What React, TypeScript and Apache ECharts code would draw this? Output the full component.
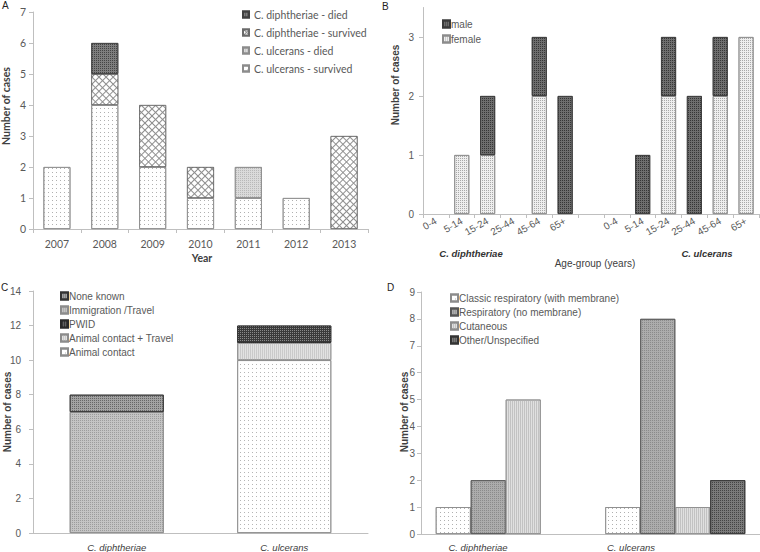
import React, { useEffect, useRef } from "react";
import * as echarts from "echarts";

// ---- Panel A: cases by year ----
const years = ["2007", "2008", "2009", "2010", "2011", "2012", "2013"];
const ulcSurvived = [2, 4, 2, 1, 1, 1, 0];
const ulcDied = [0, 0, 0, 0, 1, 0, 0];
const dipSurvived = [0, 1, 2, 1, 0, 0, 3];
const dipDied = [0, 1, 0, 0, 0, 0, 0];

// ---- Panel B: age group / sex ----
const ageGroups = ["0-4", "5-14", "15-24", "25-44", "45-64", "65+"];
const dipFemale = [0, 1, 1, 0, 2, 0];
const dipMale = [0, 0, 1, 0, 1, 2];
const ulcFemale = [0, 0, 2, 0, 2, 3];
const ulcMale = [0, 1, 1, 2, 1, 0];

// ---- Panel C: exposure ----
const species = ["C. diphtheriae", "C. ulcerans"];
const animalContact = [0, 10];
const animalTravel = [0, 1];
const pwid = [0, 1];
const immigration = [7, 0];
const noneKnown = [1, 0];

// ---- Panel D: presentation ----
const classicResp = [1, 1];
const respNoMembrane = [2, 8];
const cutaneous = [5, 1];
const otherUnspec = [0, 2];

const nz = (a: number[]) => a.map((v) => (v === 0 ? null : v));

const dots = (color: string, gap = 3) => ({
  symbol: "rect",
  symbolSize: 1,
  color,
  dashArrayX: [1, gap],
  dashArrayY: [1, gap],
  rotation: 0,
});
const cross = {
  symbol: "rect",
  symbolSize: 1,
  color: "#ffffff",
  dashArrayX: [4, 1],
  dashArrayY: [4, 1],
  rotation: Math.PI / 4,
};
const vlines = (color: string) => ({
  symbol: "rect",
  symbolSize: 1,
  color,
  dashArrayX: [1, 1],
  dashArrayY: [4, 0],
  rotation: 0,
});

const AXIS = "#bfbfbf";
const LBL = "#595959";
const ARIAL = "Liberation Sans, Arial, sans-serif";
const LATO = "Lato, sans-serif";

function style(color: string, decal: any, border = "#8c8c8c") {
  return { color, borderColor: border, borderWidth: 0.8, decal };
}

export default function App() {
  const ref = useRef<HTMLDivElement>(null);
  useEffect(() => {
    document.body.style.margin = "0";
    if (!ref.current) return;
    const chart = echarts.init(ref.current, null, { renderer: "svg" });

    const bCats = [
      ...ageGroups.map((g) => "d" + g),
      "x",
      ...ageGroups.map((g) => "u" + g),
    ];
    const bFemale = [...dipFemale, 0, ...ulcFemale];
    const bMale = [...dipMale, 0, ...ulcMale];

    const valAxis = (grid: number, max: number, interval: number, margin: number, font: string, fs: number) => ({
      type: "value",
      gridIndex: grid,
      min: 0,
      max,
      interval,
      axisLine: { show: true, lineStyle: { color: AXIS } },
      axisTick: { show: true, length: 4, lineStyle: { color: AXIS }, customValues: undefined as any },
      splitLine: { show: false },
      axisLabel: { color: LBL, fontFamily: font, fontSize: fs, margin },
    });

    const yB: any = valAxis(1, 3.5, 1, 9, ARIAL, 10);
    yB.axisLabel.formatter = (v: number) => (Number.isInteger(v) ? String(v) : "");
    yB.axisLabel.customValues = [0, 1, 2, 3];
    yB.axisTick.customValues = [0, 1, 2, 3];

    const legendBase = {
      orient: "vertical",
      padding: 0,
      icon: "rect",
      itemWidth: 7,
      itemHeight: 7,
      selectedMode: false,
    };

    const option: any = {
      animation: false,
      grid: [
        { left: 33, top: 12, width: 335, height: 217 },
        { left: 423, top: 7.5, width: 336, height: 206.5 },
        { left: 33, top: 291, width: 335, height: 242 },
        { left: 421, top: 292, width: 339, height: 242 },
      ],
      xAxis: [
        {
          type: "category",
          gridIndex: 0,
          data: years,
          axisLine: { lineStyle: { color: AXIS } },
          axisTick: { show: true, length: 4, lineStyle: { color: AXIS } },
          axisLabel: { color: LBL, fontFamily: LATO, fontSize: 10.5, margin: 9 },
        },
        {
          type: "category",
          gridIndex: 1,
          data: bCats,
          axisLine: { lineStyle: { color: AXIS } },
          axisTick: { show: true, length: 4, lineStyle: { color: AXIS } },
          axisLabel: {
            color: LBL,
            fontFamily: ARIAL,
            fontSize: 10,
            rotate: 30,
            interval: 0,
            margin: 6,
            formatter: (v: string) => v.slice(1),
          },
        },
        {
          type: "category",
          gridIndex: 2,
          data: species,
          axisLine: { lineStyle: { color: AXIS } },
          axisTick: { show: false },
          axisLabel: { color: "#404040", fontFamily: ARIAL, fontSize: 9.5, fontStyle: "italic", margin: 9 },
        },
        {
          type: "category",
          gridIndex: 3,
          data: species,
          axisLine: { lineStyle: { color: AXIS } },
          axisTick: { show: false },
          axisLabel: { show: false },
        },
      ],
      yAxis: [
        valAxis(0, 7, 1, 7, LATO, 10.5),
        yB,
        valAxis(2, 14, 2, 12, ARIAL, 10),
        valAxis(3, 9, 1, 6, ARIAL, 10),
      ],
      legend: [
        {
          ...legendBase,
          data: ["C. diphtheriae - died", "C. diphtheriae - survived", "C. ulcerans - died", "C. ulcerans - survived"],
          left: 242,
          top: 9,
          itemWidth: 6,
          itemHeight: 6,
          itemGap: 7,
          textStyle: { fontFamily: LATO, fontSize: 10.5, color: LBL },
        },
        {
          ...legendBase,
          data: ["male", "female"],
          left: 442,
          top: 19,
          itemGap: 5,
          textStyle: { fontFamily: ARIAL, fontSize: 10, color: LBL, padding: [0, 0, 0, -4] },
        },
        {
          ...legendBase,
          data: ["None known", "Immigration /Travel", "PWID", "Animal contact + Travel", "Animal contact"],
          left: 60,
          top: 291,
          itemGap: 4,
          textStyle: { fontFamily: ARIAL, fontSize: 10, color: LBL, padding: [0, 0, 0, -4] },
        },
        {
          ...legendBase,
          data: ["Classic respiratory (with membrane)", "Respiratory (no membrane)", "Cutaneous", "Other/Unspecified"],
          left: 450,
          top: 293,
          itemGap: 4,
          textStyle: { fontFamily: ARIAL, fontSize: 10, color: LBL, padding: [0, 0, 0, -4] },
        },
      ],
      series: [
        // A
        { name: "C. ulcerans - survived", type: "bar", xAxisIndex: 0, yAxisIndex: 0, stack: "A", barWidth: 27, data: nz(ulcSurvived), itemStyle: style("#ffffff", dots("#b0b0b0", 3)) },
        { name: "C. ulcerans - died", type: "bar", xAxisIndex: 0, yAxisIndex: 0, stack: "A", barWidth: 27, data: nz(ulcDied), itemStyle: style("#dadada", dots("#b8b8b8", 1)) },
        { name: "C. diphtheriae - survived", type: "bar", xAxisIndex: 0, yAxisIndex: 0, stack: "A", barWidth: 27, data: nz(dipSurvived), itemStyle: style("#8f8f8f", cross, "#6a6a6a") },
        { name: "C. diphtheriae - died", type: "bar", xAxisIndex: 0, yAxisIndex: 0, stack: "A", barWidth: 27, data: nz(dipDied), itemStyle: style("#7e7e7e", dots("#444444", 1), "#404040") },
        // B
        { name: "female", type: "bar", xAxisIndex: 1, yAxisIndex: 1, stack: "B", barWidth: 15, data: nz(bFemale), itemStyle: style("#eeeeee", dots("#a8a8a8", 1)) },
        { name: "male", type: "bar", xAxisIndex: 1, yAxisIndex: 1, stack: "B", barWidth: 15, data: nz(bMale), itemStyle: style("#6e6e6e", dots("#363636", 1), "#3a3a3a") },
        // C
        { name: "Animal contact", type: "bar", xAxisIndex: 2, yAxisIndex: 2, stack: "C", barWidth: 94, data: nz(animalContact), itemStyle: style("#ffffff", dots("#b5b5b5", 3)) },
        { name: "Animal contact + Travel", type: "bar", xAxisIndex: 2, yAxisIndex: 2, stack: "C", barWidth: 94, data: nz(animalTravel), itemStyle: style("#e2e2e2", vlines("#cacaca")) },
        { name: "PWID", type: "bar", xAxisIndex: 2, yAxisIndex: 2, stack: "C", barWidth: 94, data: nz(pwid), itemStyle: style("#3a3a3a", dots("#8a8a8a", 1), "#2a2a2a") },
        { name: "Immigration /Travel", type: "bar", xAxisIndex: 2, yAxisIndex: 2, stack: "C", barWidth: 94, data: nz(immigration), itemStyle: style("#c4c4c4", dots("#9c9c9c", 1)) },
        { name: "None known", type: "bar", xAxisIndex: 2, yAxisIndex: 2, stack: "C", barWidth: 94, data: nz(noneKnown), itemStyle: style("#a2a2a2", dots("#666666", 1), "#333333") },
        // D
        { name: "Classic respiratory (with membrane)", type: "bar", xAxisIndex: 3, yAxisIndex: 3, barWidth: 35, barGap: "0%", data: nz(classicResp), itemStyle: style("#ffffff", dots("#b0b0b0", 3)) },
        { name: "Respiratory (no membrane)", type: "bar", xAxisIndex: 3, yAxisIndex: 3, barWidth: 35, barGap: "0%", data: nz(respNoMembrane), itemStyle: style("#acacac", dots("#8a8a8a", 1), "#555555") },
        { name: "Cutaneous", type: "bar", xAxisIndex: 3, yAxisIndex: 3, barWidth: 35, barGap: "0%", data: nz(cutaneous), itemStyle: style("#e0e0e0", vlines("#c2c2c2")) },
        { name: "Other/Unspecified", type: "bar", xAxisIndex: 3, yAxisIndex: 3, barWidth: 35, barGap: "0%", data: nz(otherUnspec), itemStyle: style("#7a7a7a", dots("#444444", 1), "#333333") },
      ],
      graphic: [
        { type: "text", left: 2, top: 0, style: { text: "A", fontFamily: ARIAL, fontSize: 10, fill: "#222" } },
        { type: "text", left: 382, top: 1, style: { text: "B", fontFamily: ARIAL, fontSize: 10, fill: "#222" } },
        { type: "text", left: 1, top: 282, style: { text: "C", fontFamily: ARIAL, fontSize: 10, fill: "#222" } },
        { type: "text", left: 387, top: 282, style: { text: "D", fontFamily: ARIAL, fontSize: 10, fill: "#222" } },
        { type: "text", x: 6, y: 106, rotation: Math.PI / 2, style: { text: "Number of cases", fontFamily: LATO, fontWeight: "bold", fontSize: 10.5, fill: "#404040", align: "center", verticalAlign: "middle" } },
        { type: "text", x: 202, y: 258, style: { text: "Year", fontFamily: LATO, fontWeight: "bold", fontSize: 10.5, fill: "#404040", align: "center", verticalAlign: "middle" } },
        { type: "text", x: 395, y: 85, rotation: Math.PI / 2, style: { text: "Number of cases", fontFamily: ARIAL, fontWeight: "bold", fontSize: 10, fill: "#404040", align: "center", verticalAlign: "middle" } },
        { type: "text", x: 595, y: 263, style: { text: "Age-group (years)", fontFamily: ARIAL, fontSize: 10, fill: "#404040", align: "center", verticalAlign: "middle" } },
        { type: "text", x: 471, y: 253, style: { text: "C. diphtheriae", fontFamily: ARIAL, fontWeight: "bold", fontStyle: "italic", fontSize: 9.5, fill: "#333", align: "center", verticalAlign: "middle" } },
        { type: "text", x: 707, y: 253, style: { text: "C. ulcerans", fontFamily: ARIAL, fontWeight: "bold", fontStyle: "italic", fontSize: 9.5, fill: "#333", align: "center", verticalAlign: "middle" } },
        { type: "text", x: 7, y: 412, rotation: Math.PI / 2, style: { text: "Number of cases", fontFamily: ARIAL, fontWeight: "bold", fontSize: 10, fill: "#404040", align: "center", verticalAlign: "middle" } },
        { type: "text", x: 404, y: 412, rotation: Math.PI / 2, style: { text: "Number of cases", fontFamily: ARIAL, fontWeight: "bold", fontSize: 10, fill: "#404040", align: "center", verticalAlign: "middle" } },
        { type: "text", x: 478, y: 547, style: { text: "C. diphtheriae", fontFamily: ARIAL, fontStyle: "italic", fontSize: 9.5, fill: "#404040", align: "center", verticalAlign: "middle" } },
        { type: "text", x: 631, y: 547, style: { text: "C. ulcerans", fontFamily: ARIAL, fontStyle: "italic", fontSize: 9.5, fill: "#404040", align: "center", verticalAlign: "middle" } },
      ],
    };
    chart.setOption(option);
    return () => chart.dispose();
  }, []);
  return <div ref={ref} style={{ width: 760, height: 552 }} />;
}
